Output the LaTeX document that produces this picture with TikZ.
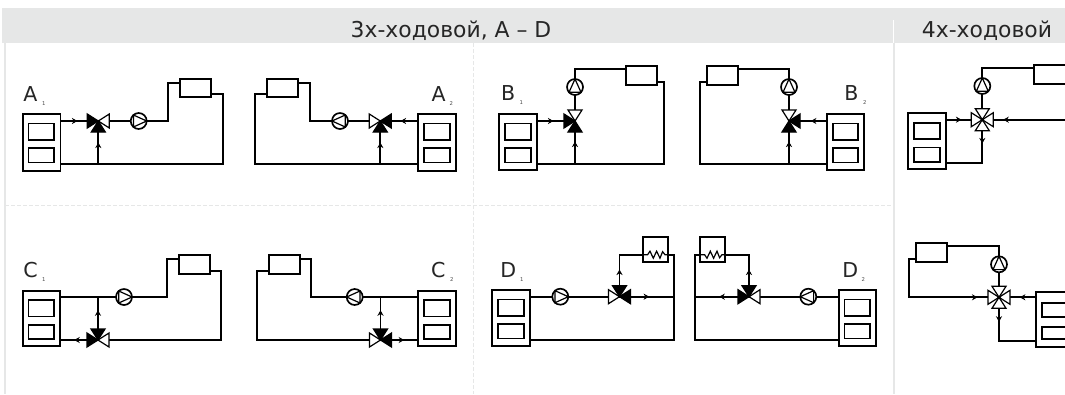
\documentclass[tikz,border=0pt]{standalone}
\usepackage{fontspec}
\setmainfont{DejaVu Sans}
\usetikzlibrary{arrows.meta}
\definecolor{hdr}{HTML}{E6E7E7}
\tikzset{
  x=0.75pt,y=-0.75pt,
  pipe/.style={line width=1.25pt,line join=miter},
  boxn/.style={draw=black,line width=1.25pt,fill=white,inner sep=0pt,outer sep=0pt},
  pumpn/.style={circle,draw=black,line width=1.25pt,fill=white,inner sep=0pt,outer sep=0pt,minimum size=12pt},
  valven/.style={inner sep=0pt,outer sep=0pt,minimum size=16pt},
  tri/.style={draw=black,line width=0.9pt,line join=miter},
  flow/.style={line width=1.25pt,-{Stealth[length=4.2pt,width=4.6pt]}},
  zig/.style={line width=0.9pt},
  gridd/.style={draw=hdr,line width=0.7pt,dash pattern=on 3pt off 1.5pt},
  grids/.style={draw=hdr,line width=1.5pt},
  lab/.style={inner sep=0pt,outer sep=0pt,anchor=base west,font=\fontsize{15.4}{16}\selectfont,text=black!85},
  sublab/.style={inner sep=0pt,outer sep=0pt,anchor=base,font=\fontsize{4}{5}\selectfont,text=black!70},
  head/.style={inner sep=0pt,outer sep=0pt,anchor=base,font=\fontsize{16.4}{18}\selectfont,text=black!85}
}
\newcommand\rb[5]{\node[boxn,minimum width={((#4)-(#2))*0.75pt},minimum height={((#5)-(#3))*0.75pt}] (#1) at ({((#2)+(#4))/2},{((#3)+(#5))/2}) {};}
% boiler: name x1 x2 y1 y2
\newcommand\boiler[5]{\rb{#1}{#2}{#4}{#3}{#5}\rb{#1i}{#2+5.8}{#4+9.5}{#3-6.2}{#4+25.7}\rb{#1j}{#2+5.8}{#4+34.2}{#3-6.2}{#4+48.5}}
\newcommand\pumpnode[3]{\node[pumpn] (#1) at (#2,#3) {};}
\newcommand\ppr[1]{\draw[tri,shift={(#1.center)}] (-5.3,-6) -- (8,0) -- (-5.3,6) -- cycle;}
\newcommand\ppl[1]{\draw[tri,shift={(#1.center)}] (5.3,-6) -- (-8,0) -- (5.3,6) -- cycle;}
\newcommand\ppu[1]{\draw[tri,shift={(#1.center)}] (-6,5.3) -- (0,-8) -- (6,5.3) -- cycle;}
\newcommand\vl[2]{\draw[tri,fill=#2,shift={(#1.center)}] (0,0) -- (-11,-7) -- (-11,7) -- cycle;}
\newcommand\vr[2]{\draw[tri,fill=#2,shift={(#1.center)}] (0,0) -- (11,-7) -- (11,7) -- cycle;}
\newcommand\vt[2]{\draw[tri,fill=#2,shift={(#1.center)}] (0,0) -- (-7,-11) -- (7,-11) -- cycle;}
\newcommand\vb[2]{\draw[tri,fill=#2,shift={(#1.center)}] (0,0) -- (-7,11) -- (7,11) -- cycle;}
\newcommand\fr[2]{\draw[flow] (#1-3,#2) -- (#1+2.5,#2);}
\newcommand\fl[2]{\draw[flow] (#1+3,#2) -- (#1-2.5,#2);}
\newcommand\fu[2]{\draw[flow] (#1,#2+3) -- (#1,#2-2.5);}
\newcommand\fd[2]{\draw[flow] (#1,#2-3) -- (#1,#2+2.5);}
\begin{document}
\begin{tikzpicture}
\clip (0,0) rectangle (1065,394);
\fill[white] (0,0) rectangle (1065,394);
% grid
\fill[hdr] (2,8) rectangle (1065,43);
\draw[white,line width=0.7pt] (893.5,20) -- (893.5,43);
\draw[grids] (4.5,43) -- (4.5,394);
\draw[grids] (893.5,43) -- (893.5,394);
\draw[gridd] (473.5,43) -- (473.5,394);
\draw[gridd] (5,205) -- (893,205);
\node[head] (h1) at (451,37) {3х-ходовой, A – D};
\node[head] (h2) at (987,37) {4х-ходовой};
% labels
\node[lab] (lA1) at (23.5,101.7) {A}; \node[sublab] (sA1) at (43.7,105.5) {1};
\node[lab] (lA2) at (431.5,101.7) {A}; \node[sublab] (sA2) at (451.3,105.5) {2};
\node[lab] (lB1) at (501,100.7) {B}; \node[sublab] (sB1) at (521.3,104.2) {1};
\node[lab] (lB2) at (844.3,100.7) {B}; \node[sublab] (sB2) at (864.7,104.2) {2};
\node[lab] (lC1) at (23.5,277.7) {C}; \node[sublab] (sC1) at (43.7,281.8) {1};
\node[lab] (lC2) at (431,277.7) {C}; \node[sublab] (sC2) at (451.7,281.8) {2};
\node[lab] (lD1) at (500.3,277.7) {D}; \node[sublab] (sD1) at (521.7,281.8) {1};
\node[lab] (lD2) at (842.3,277.7) {D}; \node[sublab] (sD2) at (863.3,281.8) {2};
% ---------- A1
\boiler{A1b}{22.7}{60.5}{114}{170.7}
\rb{A1r}{180.3}{79}{211.3}{97.3}
\pumpnode{A1p}{138.7}{121}
\node[valven] (A1v) at (98.3,121) {};
\coordinate (A1c) at (168.3,82.7); \coordinate (A1d) at (223,94); \coordinate (A1e) at (223,164.3);
\draw[pipe] (A1b.east |- A1v.center) -- (A1v.center) -- (A1p.west);
\draw[pipe] (A1p.east) -| (A1c) -- (A1c -| A1r.west);
\draw[pipe] (A1r.east |- A1d) -- (A1d) -- (A1e) -- (A1e -| A1b.east);
\draw[pipe] (A1v.center) -- (A1v.center |- A1e);
\fr{75}{121} \fu{98.3}{145}
\vl{A1v}{black}\vr{A1v}{white}\vb{A1v}{black}\ppr{A1p}
% ---------- A2
\boiler{A2b}{418}{456}{114}{170.7}
\rb{A2r}{267.3}{79}{298}{97.3}
\pumpnode{A2p}{340}{121}
\node[valven] (A2v) at (380.3,121) {};
\coordinate (A2c) at (309.7,82.7); \coordinate (A2d) at (255.3,94); \coordinate (A2e) at (255.3,164.3);
\draw[pipe] (A2b.west |- A2v.center) -- (A2v.center) -- (A2p.east);
\draw[pipe] (A2p.west) -| (A2c) -- (A2c -| A2r.east);
\draw[pipe] (A2r.west |- A2d) -- (A2d) -- (A2e) -- (A2e -| A2b.west);
\draw[pipe] (A2v.center) -- (A2v.center |- A2e);
\fl{403}{121} \fu{380.3}{145}
\vl{A2v}{white}\vr{A2v}{black}\vb{A2v}{black}\ppl{A2p}
% ---------- B1
\boiler{B1b}{499.3}{537.3}{114}{170}
\rb{B1r}{626}{66.3}{657}{84.7}
\pumpnode{B1p}{575}{87}
\node[valven] (B1v) at (575,121) {};
\coordinate (B1c) at (575,69); \coordinate (B1d) at (664.3,81.7); \coordinate (B1e) at (664.3,163.7);
\draw[pipe] (B1b.east |- B1v.center) -- (B1v.center) -- (B1p.south);
\draw[pipe] (B1p.north) -- (B1c) -- (B1c -| B1r.west);
\draw[pipe] (B1r.east |- B1d) -- (B1d) -- (B1e) -- (B1e -| B1b.east);
\draw[pipe] (B1v.center) -- (B1v.center |- B1e);
\fr{551}{121} \fu{575}{144}
\vl{B1v}{black}\vt{B1v}{white}\vb{B1v}{black}\ppu{B1p}
% ---------- B2
\boiler{B2b}{827}{864.3}{114}{170}
\rb{B2r}{707.3}{66.3}{737.7}{84.7}
\pumpnode{B2p}{789}{87}
\node[valven] (B2v) at (789,121) {};
\coordinate (B2c) at (789,69); \coordinate (B2d) at (699.7,81.7); \coordinate (B2e) at (699.7,163.7);
\draw[pipe] (B2b.west |- B2v.center) -- (B2v.center) -- (B2p.south);
\draw[pipe] (B2p.north) -- (B2c) -- (B2c -| B2r.east);
\draw[pipe] (B2r.west |- B2d) -- (B2d) -- (B2e) -- (B2e -| B2b.west);
\draw[pipe] (B2v.center) -- (B2v.center |- B2e);
\fl{813.3}{121} \fu{789}{144}
\vr{B2v}{black}\vt{B2v}{white}\vb{B2v}{black}\ppu{B2p}
% ---------- C1
\boiler{C1b}{22.7}{60.3}{290.7}{346.3}
\rb{C1r}{179}{255.3}{210}{274}
\pumpnode{C1p}{124}{297}
\node[valven] (C1v) at (98,340) {};
\coordinate (C1c) at (167.3,259); \coordinate (C1d) at (221.3,270.7); \coordinate (C1e) at (221.3,340);
\draw[pipe] (C1b.east |- C1p.center) -- (C1p.west);
\draw[pipe] (C1p.east) -| (C1c) -- (C1c -| C1r.west);
\draw[pipe] (C1r.east |- C1d) -- (C1d) -- (C1e) -- (C1v.center) -- (C1v.center -| C1b.east);
\draw[pipe] (C1v.center) -- (C1v.center |- C1p.center);
\fl{76.7}{340} \fu{98}{312.7}
\vl{C1v}{black}\vr{C1v}{white}\vt{C1v}{black}\ppr{C1p}
% ---------- C2
\boiler{C2b}{418.3}{456}{290.7}{346.3}
\rb{C2r}{268.7}{255.3}{299.7}{274}
\pumpnode{C2p}{354.7}{297}
\node[valven] (C2v) at (380.5,340) {};
\coordinate (C2c) at (311,259); \coordinate (C2d) at (257,270.7); \coordinate (C2e) at (257,340);
\draw[pipe] (C2b.west |- C2p.center) -- (C2p.east);
\draw[pipe] (C2p.west) -| (C2c) -- (C2c -| C2r.east);
\draw[pipe] (C2r.west |- C2d) -- (C2d) -- (C2e) -- (C2v.center) -- (C2v.center -| C2b.west);
\draw[pipe] (C2v.center) -- (C2v.center |- C2p.center);
\fr{401.7}{340} \fu{380.5}{312.7}
\vl{C2v}{white}\vr{C2v}{black}\vt{C2v}{black}\ppl{C2p}
% ---------- D1
\boiler{D1b}{492}{530}{290}{346.3}
\rb{D1r}{643.3}{236.7}{668.3}{262}
\pumpnode{D1p}{560.3}{296.7}
\node[valven] (D1v) at (619.5,296.7) {};
\coordinate (D1c) at (619.5,254.7); \coordinate (D1d) at (673.7,254.7); \coordinate (D1e) at (673.7,339.7); \coordinate (D1f) at (673.7,296.7);
\draw[pipe] (D1b.east |- D1p.center) -- (D1p.west);
\draw[pipe] (D1p.east) -- (D1v.center) -- (D1f);
\draw[pipe] (D1v.center) -- (D1c) -- (D1c -| D1r.west);
\draw[pipe] (D1r.east |- D1d) -- (D1d) -- (D1e) -- (D1e -| D1b.east);
\draw[zig,shift={(D1r.west |- D1c)}] (0,0) -- (4.3,0) -- (6.7,-3.5) -- (10,3.5) -- (13.3,-3.5) -- (16.7,3.5) -- (19.3,-3) -- (21.7,0) -- (25,0);
\fr{646.7}{296.7} \fu{619.5}{272}
\vl{D1v}{white}\vr{D1v}{black}\vt{D1v}{black}\ppr{D1p}
% ---------- D2
\boiler{D2b}{838.7}{876.3}{290}{346.3}
\rb{D2r}{700.3}{236.7}{725.3}{262}
\pumpnode{D2p}{808.3}{296.7}
\node[valven] (D2v) at (749,296.7) {};
\coordinate (D2c) at (749,254.7); \coordinate (D2d) at (695,254.7); \coordinate (D2e) at (695,339.7); \coordinate (D2f) at (695,296.7);
\draw[pipe] (D2b.west |- D2p.center) -- (D2p.east);
\draw[pipe] (D2p.west) -- (D2v.center) -- (D2f);
\draw[pipe] (D2v.center) -- (D2c) -- (D2c -| D2r.east);
\draw[pipe] (D2r.west |- D2d) -- (D2d) -- (D2e) -- (D2e -| D2b.west);
\draw[zig,shift={(D2r.west |- D2c)}] (0,0) -- (4.3,0) -- (6.7,3.5) -- (10,-3.5) -- (13.3,3.5) -- (16.7,-3.5) -- (19.3,3) -- (21.7,0) -- (25,0);
\fl{721.7}{296.7} \fu{749}{272}
\vl{D2v}{black}\vr{D2v}{white}\vt{D2v}{black}\ppl{D2p}
% ---------- four-way, top
\boiler{E1b}{908.3}{946}{113.3}{169.3}
\rb{E1r}{1034.3}{65}{1080}{83.7}
\pumpnode{E1p}{982.3}{86}
\node[valven] (E1v) at (982.3,119.7) {};
\coordinate (E1c) at (982.3,68); \coordinate (E1d) at (1070,119.7); \coordinate (E1e) at (982.3,163.3);
\draw[pipe] (E1b.east |- E1v.center) -- (E1v.center) -- (E1d);
\draw[pipe] (E1v.center) -- (E1p.south);
\draw[pipe] (E1p.north) -- (E1c) -- (E1c -| E1r.west);
\draw[pipe] (E1v.center) -- (E1e) -- (E1e -| E1b.east);
\fr{959}{119.7} \fl{1005.7}{119.7} \fd{982.3}{141}
\vl{E1v}{white}\vr{E1v}{white}\vt{E1v}{white}\vb{E1v}{white}\ppu{E1p}
\fill (E1v.center) circle[radius=1.8];
% ---------- four-way, bottom
\rb{E2r}{916.3}{243}{947}{261.7}
\pumpnode{E2p}{999}{264.3}
\node[valven] (E2v) at (999,297.3) {};
\rb{E2b}{1035.7}{291.7}{1085}{347}
\rb{E2bi}{1041.7}{302.7}{1080}{317.3}
\rb{E2bj}{1041.7}{326.7}{1080}{339}
\coordinate (E2c) at (999,245.7); \coordinate (E2d) at (909,259); \coordinate (E2e) at (909,297.3); \coordinate (E2f) at (999,341);
\draw[pipe] (E2r.west |- E2d) -- (E2d) -- (E2e) -- (E2v.center) -- (E2v.center -| E2b.west);
\draw[pipe] (E2v.center) -- (E2p.south);
\draw[pipe] (E2p.north) -- (E2c) -- (E2c -| E2r.east);
\draw[pipe] (E2v.center) -- (E2f) -- (E2f -| E2b.west);
\fr{975}{297.3} \fl{1022.3}{297.3} \fd{999}{319.3}
\vl{E2v}{white}\vr{E2v}{white}\vt{E2v}{white}\vb{E2v}{white}\ppu{E2p}
\fill (E2v.center) circle[radius=1.8];
\end{tikzpicture}
\end{document}
